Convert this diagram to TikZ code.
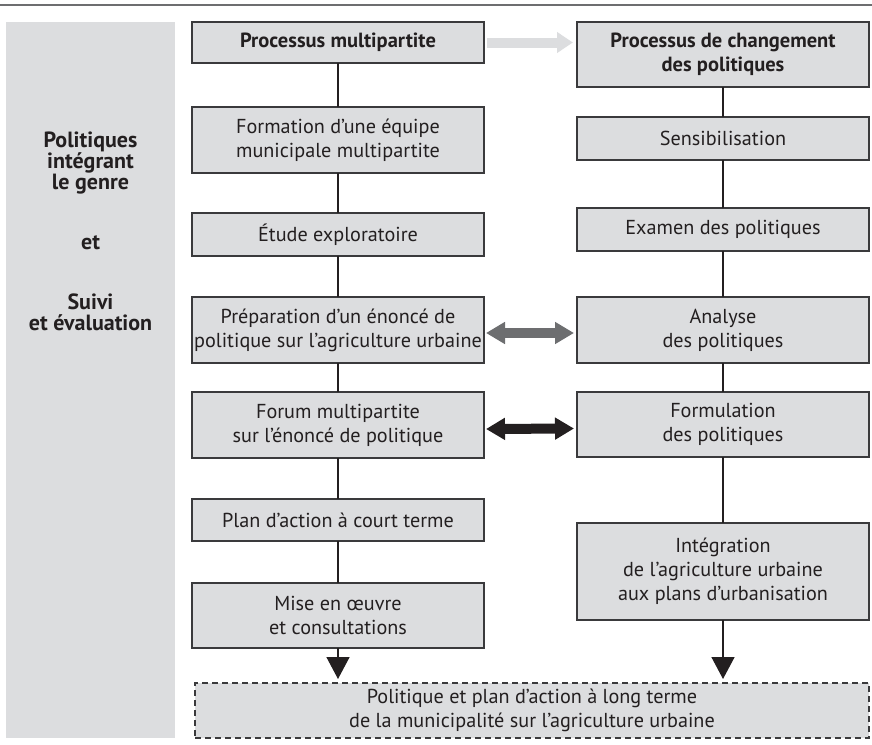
\documentclass[tikz,border=0pt]{standalone}
\usepackage{fontspec}
\setmainfont{PT Sans}
\usetikzlibrary{arrows.meta,positioning,calc}
\definecolor{ink}{HTML}{231F20}
\definecolor{boxfill}{HTML}{DCDDDF}
\definecolor{boxline}{HTML}{3A3A3C}
\definecolor{midgray}{HTML}{6D6E70}
\tikzset{
  every node/.style={font=\fontsize{20.2}{24}\selectfont, text=ink},
  stage/.style={
    draw=boxline,
    fill=boxfill,
    line width=1.3pt,
    align=center,
    minimum width=292pt,
    inner sep=0pt,
    outer sep=0pt
  },
  stagebold/.style={stage, font=\fontsize{20.5}{24}\selectfont\bfseries},
  goal/.style={stage, dashed, dash pattern=on 6pt off 4pt, minimum width=674pt, minimum height=55pt},
  link/.style={draw=ink, line width=1.5pt},
  flow/.style={link, -{Triangle[length=22pt,width=23pt]}, shorten >=4pt},
  swap/.style={line width=10pt, {Triangle[length=19pt,width=21pt]}-{Triangle[length=19pt,width=21pt]}},
  panel/.style={font=\fontsize{22}{21}\selectfont\bfseries, align=center}
}

\begin{document}
\begin{tikzpicture}[x=1pt, y=-1pt]
  \useasboundingbox (0,0) rectangle (872,744);

  % Page rule and side panel
  \draw[midgray, line width=1.5pt] (0,5) -- (872,5);
  \fill[boxfill] (6,22) rectangle (175,738);
  \node[panel] (genre) at (90.5,163) {Politiques\\intégrant\\le genre};
  \node[panel] (et) at (90.5,243) {et};
  \node[panel] (suivi) at (90.5,312) {Suivi\\et évaluation};

  % Multi-stakeholder process
  \node[stagebold, minimum height=41pt] (L1) at (338,42.5) {Processus multipartite};
  \node[stage, minimum height=66pt] (L2) at (338,140) {Formation d’une équipe\\municipale multipartite};
  \node[stage, minimum height=43pt] (L3) at (338,234.5) {Étude exploratoire};
  \node[stage, minimum height=66pt] (L4) at (338,330) {Préparation d’un énoncé de\\politique sur l’agriculture urbaine};
  \node[stage, minimum height=66pt] (L5) at (338,425) {Forum multipartite\\sur l’énoncé de politique};
  \node[stage, minimum height=42pt] (L6) at (338,520) {Plan d’action à court terme};
  \node[stage, minimum height=65pt] (L7) at (338,615.5) {Mise en œuvre\\et consultations};

  % Policy change process
  \node[stagebold, minimum height=65pt] (R1) at (723,54.5) {Processus de changement\\des politiques};
  \node[stage, minimum height=43pt] (R2) at (723,138.5) {Sensibilisation};
  \node[stage, minimum height=43pt] (R3) at (723,229.5) {Examen des politiques};
  \node[stage, minimum height=66pt] (R4) at (723,330) {Analyse\\des politiques};
  \node[stage, minimum height=65pt] (R5) at (723,424.5) {Formulation\\des politiques};
  \node[stage, minimum height=97pt] (R6) at (723,571.5) {Intégration\\de l’agriculture urbaine\\aux plans d’urbanisation};

  % Long-term outcome
  \node[goal] (G) at (532,710.5) {Politique et plan d’action à long terme\\de la municipalité sur l’agriculture urbaine};

  % Vertical links
  \foreach \a/\b in {L1/L2, L2/L3, L3/L4, L4/L5, L5/L6, L6/L7, R1/R2, R2/R3, R3/R4, R4/R5, R5/R6}
    \draw[link] (\a) -- (\b);
  \draw[flow] (L7) -- (L7 |- G.north);
  \draw[flow] (R6) -- (R6 |- G.north);

  % Horizontal links
  \draw[boxfill, line width=10pt, -{Triangle[length=16pt,width=20pt]}]
    ([xshift=3pt]L1.east) -- ([xshift=-4pt]R1.west |- L1.east);
  \draw[swap, midgray] ([shift={(2pt,-3pt)}]L4.east) -- ([shift={(-3pt,-3pt)}]R4.west);
  \draw[swap, ink] ([shift={(2pt,-4pt)}]L5.east) -- ([shift={(-3pt,-4pt)}]R5.west);
\end{tikzpicture}
\end{document}
